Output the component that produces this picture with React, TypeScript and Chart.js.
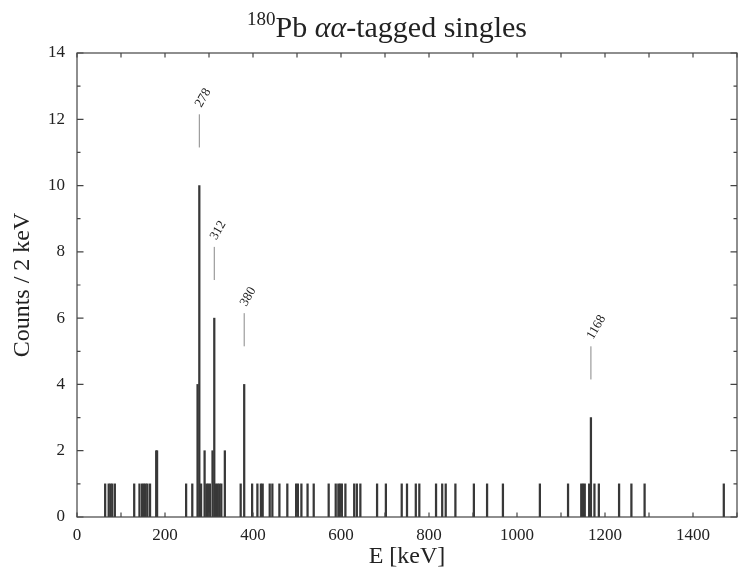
import React, { useEffect, useRef } from 'react';
import { Chart, registerables } from 'chart.js';
Chart.register(...registerables);

// Histogram bins (2 keV wide), energy in keV and counts per bin
const energies = [
  64, 72, 76, 80, 86, 130, 142, 148, 152, 156, 160, 166, 180, 182, 248, 262,
  274, 278, 282, 290, 294, 298, 302, 308, 312, 316, 320, 324, 328, 336, 372, 380,
  398, 410, 418, 422, 438, 444, 460, 478, 498, 502, 510, 524, 538, 572, 588, 594,
  598, 602, 610, 630, 636, 644, 682, 702, 738, 750, 770, 778, 816, 830, 838, 860,
  902, 932, 968, 1052, 1116, 1146, 1150, 1154, 1164, 1168, 1176, 1186, 1232, 1260,
  1290, 1470,
];
const counts = [
  1, 1, 1, 1, 1, 1, 1, 1, 1, 1, 1, 1, 2, 2, 1, 1,
  4, 10, 1, 2, 1, 1, 1, 2, 6, 1, 1, 1, 1, 2, 1, 4,
  1, 1, 1, 1, 1, 1, 1, 1, 1, 1, 1, 1, 1, 1, 1, 1,
  1, 1, 1, 1, 1, 1, 1, 1, 1, 1, 1, 1, 1, 1, 1, 1,
  1, 1, 1, 1, 1, 1, 1, 1, 1, 3, 1, 1, 1, 1,
  1, 1,
];

const peakEnergies = [278, 312, 380, 1168];
const peakCounts = [10, 6, 4, 3];
const peakLabels = ['278', '312', '380', '1168'];

const xMin = 0;
const xMax = 1500;
const yMin = 0;
const yMax = 14;

const SERIF = '"Liberation Serif", "DejaVu Serif", serif';
const INK = '#222';

const titlePlugin = {
  id: 'customTitle',
  afterDraw(chart: any) {
    const ctx = chart.ctx;
    const parts = [
      { t: '180', f: `19px ${SERIF}`, dy: -12 },
      { t: 'Pb ', f: `30px ${SERIF}`, dy: 0 },
      { t: 'αα', f: `italic 30px ${SERIF}`, dy: 0 },
      { t: '-tagged singles', f: `30px ${SERIF}`, dy: 0 },
    ];
    ctx.save();
    let total = 0;
    const widths = parts.map((p) => {
      ctx.font = p.f;
      const w = ctx.measureText(p.t).width;
      total += w;
      return w;
    });
    const cx = 387;
    let x = cx - total / 2;
    const baseline = 37;
    ctx.fillStyle = INK;
    ctx.textBaseline = 'alphabetic';
    ctx.textAlign = 'left';
    parts.forEach((p, i) => {
      ctx.font = p.f;
      ctx.fillText(p.t, x, baseline + p.dy);
      x += widths[i];
    });
    ctx.restore();
  },
};

const framePlugin = {
  id: 'frameTicks',
  afterDatasetsDraw(chart: any) {
    const { ctx, chartArea } = chart;
    const xs = chart.scales.x;
    const ys = chart.scales.y;
    const { left, right, top, bottom } = chartArea;
    ctx.save();
    ctx.strokeStyle = '#444';
    ctx.lineWidth = 1.2;
    ctx.strokeRect(left, top, right - left, bottom - top);
    ctx.beginPath();
    for (let v = xMin; v <= xMax; v += 100) {
      const px = xs.getPixelForValue(v);
      ctx.moveTo(px, bottom);
      ctx.lineTo(px, bottom - 4.5);
      ctx.moveTo(px, top);
      ctx.lineTo(px, top + 4.5);
    }
    for (let v = yMin; v <= yMax; v += 1) {
      const py = ys.getPixelForValue(v);
      const len = v % 2 === 0 ? 6.5 : 3.5;
      ctx.moveTo(left, py);
      ctx.lineTo(left + len, py);
      ctx.moveTo(right, py);
      ctx.lineTo(right - len, py);
    }
    ctx.stroke();

    // peak markers and labels
    ctx.strokeStyle = '#888';
    ctx.lineWidth = 1;
    ctx.fillStyle = INK;
    ctx.font = `13px ${SERIF}`;
    ctx.textAlign = 'left';
    ctx.textBaseline = 'middle';
    peakEnergies.forEach((e, i) => {
      const px = xs.getPixelForValue(e);
      const y1 = ys.getPixelForValue(peakCounts[i] + 1.15);
      const y2 = ys.getPixelForValue(peakCounts[i] + 2.15);
      ctx.beginPath();
      ctx.moveTo(px, y1);
      ctx.lineTo(px, y2);
      ctx.stroke();
      ctx.save();
      ctx.translate(px - 1, y2 - 8);
      ctx.rotate(-Math.PI / 3);
      ctx.fillText(peakLabels[i], 0, 0);
      ctx.restore();
    });
    ctx.restore();
  },
};

export default function App() {
  const ref = useRef<HTMLCanvasElement | null>(null);
  useEffect(() => {
    if (!ref.current) return;
    const chart = new Chart(ref.current, {
      type: 'bar',
      data: {
        datasets: [
          {
            data: energies.map((e, i) => ({ x: e, y: counts[i] })),
            backgroundColor: '#383838',
            borderWidth: 0,
            barThickness: 1.6,
            grouped: false,
          } as any,
        ],
      },
      options: {
        responsive: false,
        animation: false,
        layout: { padding: { top: 53, right: 11, left: 0, bottom: 0 } },
        plugins: {
          legend: { display: false },
          tooltip: { enabled: false },
          title: { display: false },
        },
        scales: {
          x: {
            type: 'linear',
            min: xMin,
            max: xMax,
            offset: false,
            grid: { display: false, drawTicks: false, tickLength: 0 },
            border: { display: false },
            ticks: {
              stepSize: 200,
              includeBounds: false,
              autoSkip: false,
              maxRotation: 0,
              padding: 8,
              color: INK,
              font: { family: SERIF, size: 17 },
              callback: (v: any) => String(v),
            },
            title: {
              display: true,
              text: 'E [keV]',
              color: INK,
              font: { family: SERIF, size: 24 },
              padding: { top: 0, bottom: 3 },
            },
            afterFit: (s: any) => {
              s.height = 57;
            },
          } as any,
          y: {
            type: 'linear',
            min: yMin,
            max: yMax,
            grid: { display: false, drawTicks: false, tickLength: 0 },
            border: { display: false },
            ticks: {
              stepSize: 2,
              autoSkip: false,
              padding: 12,
              color: INK,
              font: { family: SERIF, size: 17 },
              callback: (v: any) => String(v),
            },
            title: {
              display: true,
              text: 'Counts / 2 keV',
              color: INK,
              font: { family: SERIF, size: 24 },
              padding: { top: 8, bottom: 0 },
            },
            afterFit: (s: any) => {
              s.width = 77;
            },
          } as any,
        },
      },
      plugins: [titlePlugin, framePlugin],
    });
    return () => chart.destroy();
  }, []);
  return (
    <div style={{ position: 'absolute', left: 0, top: 0, width: 748, height: 574, background: '#fff' }}>
      <canvas ref={ref} width={748} height={574} style={{ display: 'block' }} />
    </div>
  );
}
